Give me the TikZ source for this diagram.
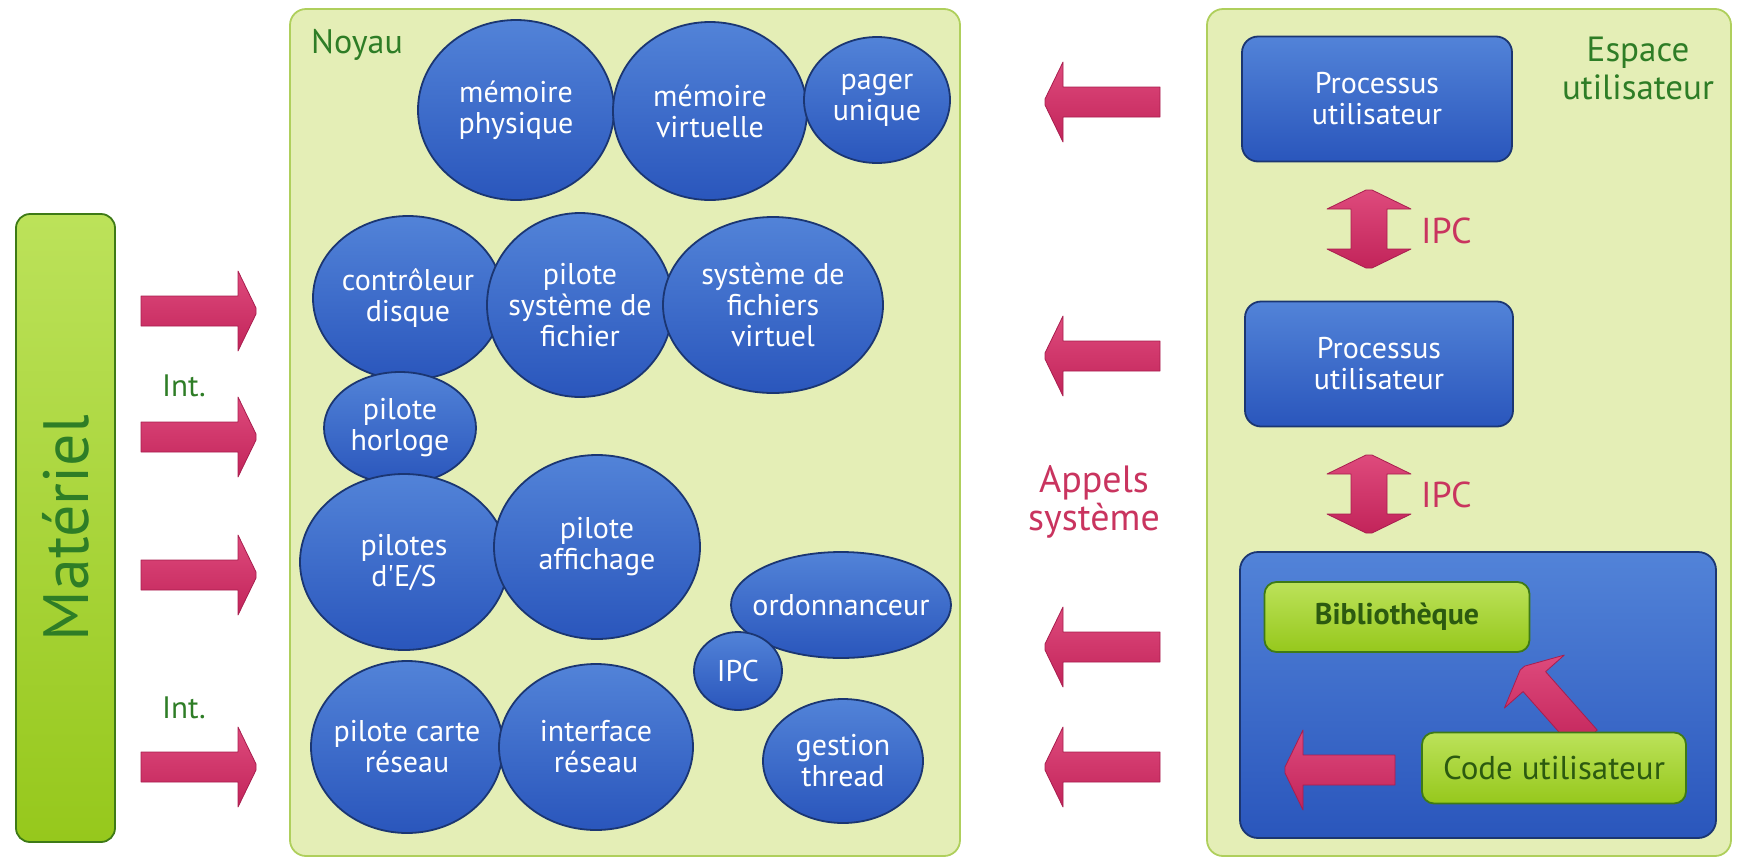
\documentclass[tikz,border=0pt]{standalone}
\usepackage{fontspec}
\setmainfont{PT Sans}
\usetikzlibrary{shapes.geometric}
\definecolor{blueT}{HTML}{5283D8}
\definecolor{blueB}{HTML}{2A56BC}
\definecolor{blueD}{HTML}{1B3672}
\definecolor{greenT}{HTML}{BCE25A}
\definecolor{greenB}{HTML}{96C81C}
\definecolor{greenD}{HTML}{3E7A16}
\definecolor{greenTxt}{HTML}{2E7D26}
\definecolor{greenDark}{HTML}{2C5A10}
\definecolor{panelF}{HTML}{E4EEB6}
\definecolor{panelD}{HTML}{AFCF5C}
\definecolor{arrT}{HTML}{DE4A7C}
\definecolor{arrB}{HTML}{C2245A}
\definecolor{arrD}{HTML}{A81E4E}
\definecolor{crimsonTxt}{HTML}{C9345F}
\tikzset{
  fatarrow/.pic={\path[arrowshape] (0,-15) -- ({#1-18},-15) -- ({#1-18},-40) -- (#1,-3) -- (#1,3) -- ({#1-18},40) -- ({#1-18},15) -- (0,15) -- cycle;},
  dblarrow/.pic={\path[arrowshape] (0,-3) -- (19,-42) -- (19,-18) -- ({#1-19},-18) -- ({#1-19},-42) -- (#1,-3) -- (#1,3) -- ({#1-19},42) -- ({#1-19},18) -- (19,18) -- (19,42) -- (0,3) -- cycle;},
}
\begin{document}
\begin{tikzpicture}[x=1pt,y=-1pt,
  arrowshape/.style={draw=arrD, line width=0.8pt, top color=arrT, bottom color=arrB, line join=round},
  panel/.style={draw=panelD, line width=1.8pt, fill=panelF, rounded corners=16pt, inner sep=0pt},
  bubtxt/.style={text=white, align=center, inner sep=0pt, font=\fontsize{30}{31}\selectfont},
  bub/.style={ellipse, draw=blueD, line width=1.8pt, top color=blueT, bottom color=blueB, inner sep=0pt, label={[bubtxt]center:{#1}}},
  procbox/.style={rectangle, rounded corners=16pt, draw=blueD, line width=1.8pt, top color=blueT, bottom color=blueB, text=white, align=center, inner sep=0pt, font=\fontsize{30}{31}\selectfont},
  greenbox/.style={rectangle, rounded corners=12pt, draw=greenD, line width=1.8pt, top color=greenT, bottom color=greenB, inner sep=0pt},
  greenlbl/.style={text=greenTxt, align=center, inner sep=0pt},
  redlbl/.style={text=crimsonTxt, align=center, inner sep=0pt},
]
\useasboundingbox (0,0) rectangle (1738,863);

% panels
\node[panel, minimum width=670, minimum height=847] (noyau) at (625,432.5) {};
\node[panel, minimum width=524, minimum height=847] (espace) at (1469,432.5) {};
\node[greenbox, rounded corners=14pt, minimum width=99, minimum height=628] (materiel) at (65.5,528) {};
\node[greenlbl, rotate=90, font=\fontsize{64}{64}\selectfont] (materielTxt) at (materiel.center) {Matériel};

\node[greenlbl, font=\fontsize{34}{36}\selectfont] (noyauLbl) at (357,45) {Noyau};
\node[greenlbl, font=\fontsize{35}{38}\selectfont] (espaceLbl) at (1638,68) {Espace\\utilisateur};

% kernel bubbles
\node[bub={mémoire\\physique}, minimum width=196, minimum height=180] (memphys) at (516,110) {};
\node[bub={mémoire\\virtuelle}, minimum width=194, minimum height=178] (memvirt) at (710,111) {};
\node[bub={pager\\unique}, minimum width=146, minimum height=126] (pager) at (877,100) {};
\node[bub={contrôleur\\disque}, minimum width=190, minimum height=164] (ctrl) at (408,298) {};
\node[bub={pilote\\système de\\fichier}, minimum width=186, minimum height=184] (pilsf) at (580,305) {};
\node[bub={système de\\fichiers\\virtuel}, minimum width=220, minimum height=176] (sfv) at (773,305) {};
\node[bub={pilote\\horloge}, minimum width=152, minimum height=112] (horloge) at (400,428) {};
\node[bub={pilotes\\d\textquotesingle E/S}, minimum width=208, minimum height=176] (es) at (404,562) {};
\node[bub={pilote\\affichage}, minimum width=206, minimum height=184] (aff) at (597,547) {};
\node[bub={ordonnanceur}, minimum width=220, minimum height=106] (ordo) at (841,605) {};
\node[bub={IPC}, minimum width=88, minimum height=78] (ipc) at (738,671) {};
\node[bub={pilote carte\\réseau}, minimum width=192, minimum height=172] (carte) at (407,747) {};
\node[bub={interface\\réseau}, minimum width=194, minimum height=166] (iface) at (596,747) {};
\node[bub={gestion\\thread}, minimum width=160, minimum height=124] (thread) at (843,761) {};

% hardware interrupts
\foreach \y/\n in {311/a1,437/a2,575/a3,767/a4}{
  \coordinate (\n) at (141,\y);
  \pic at (\n) {fatarrow=115};
}
\node[greenlbl, font=\fontsize{31}{33}\selectfont] (int1) at (184,386) {Int.};
\node[greenlbl, font=\fontsize{31}{33}\selectfont] (int2) at (184,708) {Int.};

% user space
\node[procbox, minimum width=270, minimum height=125] (proc1) at (1377,99) {Processus\\utilisateur};
\node[procbox, minimum width=268, minimum height=125] (proc2) at (1379,364) {Processus\\utilisateur};
\node[procbox, rounded corners=18pt, minimum width=476, minimum height=286] (app) at (1478,695) {};

\pic at (1369,190) [rotate=-90] {dblarrow=78};
\pic at (1369,455) [rotate=-90] {dblarrow=78};
\node[redlbl, anchor=west, font=\fontsize{36}{40}\selectfont] (ipc1) at (1421,231) {IPC};
\node[redlbl, anchor=west, font=\fontsize{36}{40}\selectfont] (ipc2) at (1421,495) {IPC};

\coordinate (diagTail) at (1586,740);
\pic at (diagTail) [rotate=131.5] {fatarrow=96};
\node[greenbox, minimum width=265, minimum height=70, text=greenDark, font=\bfseries\fontsize{30}{32}\selectfont] (biblio) at (1397,617) {Bibliothèque};
\node[greenbox, minimum width=264, minimum height=71, text=greenDark, font=\fontsize{33}{35}\selectfont] (code) at (1554,768) {Code utilisateur};
\coordinate (innerTail) at (1395,770);
\pic at (innerTail) [rotate=180] {fatarrow=110};

% system calls
\foreach \y/\n in {102/s1,356/s2,647/s3,767/s4}{
  \coordinate (\n) at (1160,\y);
  \pic at (\n) [rotate=180] {fatarrow=115};
}
\node[redlbl, font=\fontsize{38}{38}\selectfont] (appels) at (1094,502) {Appels\\système};
\end{tikzpicture}
\end{document}
